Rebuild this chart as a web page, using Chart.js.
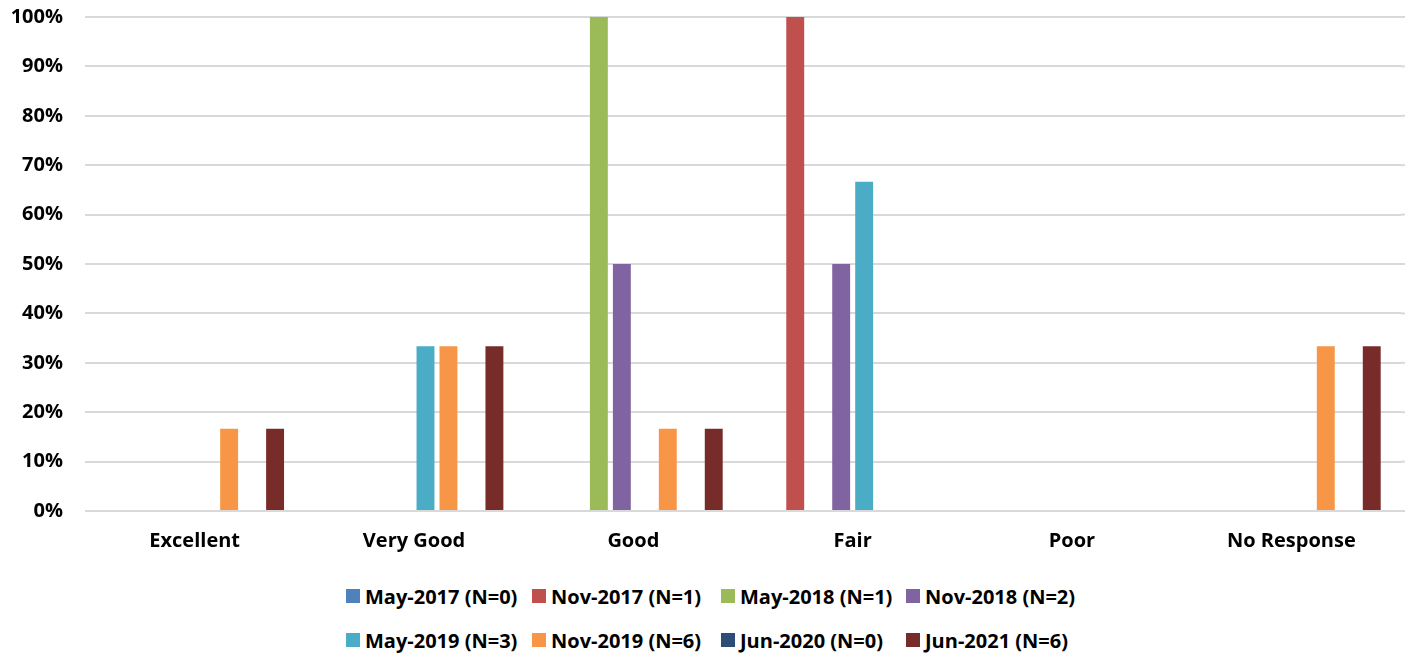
<!DOCTYPE html>
<html>
<head>
<meta charset="utf-8">
<script src="https://cdn.jsdelivr.net/npm/chart.js@4/dist/chart.umd.min.js"></script>
<style>
  html, body { margin: 0; padding: 0; background: #fff; overflow: hidden; }
  #wrap { position: relative; width: 1405px; height: 582px; margin-top: -17px; }
  #legend {
    position: absolute;
    left: 346px;
    top: 574px;
    display: grid;
    grid-template-columns: 186px 189px 185px auto;
    grid-auto-rows: 44px;
    font-family: "Open Sans", Lato, sans-serif;
    font-weight: bold;
    font-size: 20px;
    color: #000;
  }
  .item { display: flex; align-items: center; white-space: nowrap; }
  .box { width: 14px; height: 14px; margin-right: 5px; }
</style>
</head>
<body>
<div id="wrap"><canvas id="chart"></canvas></div>
<div id="legend"></div>
<script>
const categories = ["Excellent", "Very Good", "Good", "Fair", "Poor", "No Response"];
const seriesNames = [
  "May-2017 (N=0)", "Nov-2017 (N=1)", "May-2018 (N=1)", "Nov-2018 (N=2)",
  "May-2019 (N=3)", "Nov-2019 (N=6)", "Jun-2020 (N=0)", "Jun-2021 (N=6)",
];
const may2017 = [0, 0, 0, 0, 0, 0];
const nov2017 = [0, 0, 0, 100, 0, 0];
const may2018 = [0, 0, 100, 0, 0, 0];
const nov2018 = [0, 0, 50, 50, 0, 0];
const may2019 = [0, 33.33, 0, 66.67, 0, 0];
const nov2019 = [16.67, 33.33, 16.67, 0, 0, 33.33];
const jun2020 = [0, 0, 0, 0, 0, 0];
const jun2021 = [16.67, 33.33, 16.67, 0, 0, 33.33];
const seriesValues = [may2017, nov2017, may2018, nov2018, may2019, nov2019, jun2020, jun2021];
const colors = ["#4f81bd", "#c0504d", "#9bbb59", "#8064a2", "#4bacc6", "#f79646", "#2c4d75", "#772c2a"];
const yTicks = [0, 10, 20, 30, 40, 50, 60, 70, 80, 90, 100];

const FONT = "'Open Sans', Lato, sans-serif";

const datasets = seriesNames.map((name, i) => ({
  label: name,
  data: seriesValues[i],
  backgroundColor: colors[i],
  borderWidth: 0,
  categoryPercentage: 0.838,
  barPercentage: 0.78,
}));

// stretch horizontal gridlines to the right edge of the canvas, like the source
const gridToEdge = {
  id: "gridToEdge",
  beforeDatasetsDraw(chart) {
    const { ctx, chartArea, scales } = chart;
    ctx.save();
    ctx.strokeStyle = "#d9d9d9";
    ctx.lineWidth = 2;
    scales.y.ticks.forEach((t) => {
      const y = scales.y.getPixelForValue(t.value);
      ctx.beginPath();
      ctx.moveTo(chartArea.right, y);
      ctx.lineTo(chart.width, y);
      ctx.stroke();
    });
    ctx.restore();
  },
};

new Chart(document.getElementById("chart"), {
  type: "bar",
  data: { labels: categories, datasets },
  options: {
    responsive: true,
    maintainAspectRatio: false,
    animation: false,
    layout: { padding: { top: 0, left: 0, bottom: 0, right: 4 } },
    plugins: { legend: { display: false }, tooltip: { enabled: false } },
    scales: {
      x: {
        grid: { display: false, drawTicks: false },
        border: { display: false },
        ticks: { color: "#000", font: { family: FONT, size: 20, weight: "bold" }, padding: 18 },
        afterFit: (s) => { s.height = 54; },
      },
      y: {
        min: 0,
        max: 100,
        afterBuildTicks: (s) => { s.ticks = yTicks.map((v) => ({ value: v })); },
        grid: { color: "#d9d9d9", lineWidth: 2, drawTicks: false },
        border: { display: false },
        ticks: {
          color: "#000",
          font: { family: FONT, size: 20, weight: "bold" },
          padding: 22,
          callback: (v) => v + "%",
        },
        afterFit: (s) => { s.width = 85; },
      },
    },
  },
  plugins: [gridToEdge],
});

const legendEl = document.getElementById("legend");
seriesNames.forEach((name, idx) => {
  const item = document.createElement("div");
  item.className = "item";
  const box = document.createElement("span");
  box.className = "box";
  box.style.background = colors[idx];
  const txt = document.createElement("span");
  txt.textContent = name;
  item.append(box, txt);
  legendEl.append(item);
});
</script>
</body>
</html>
